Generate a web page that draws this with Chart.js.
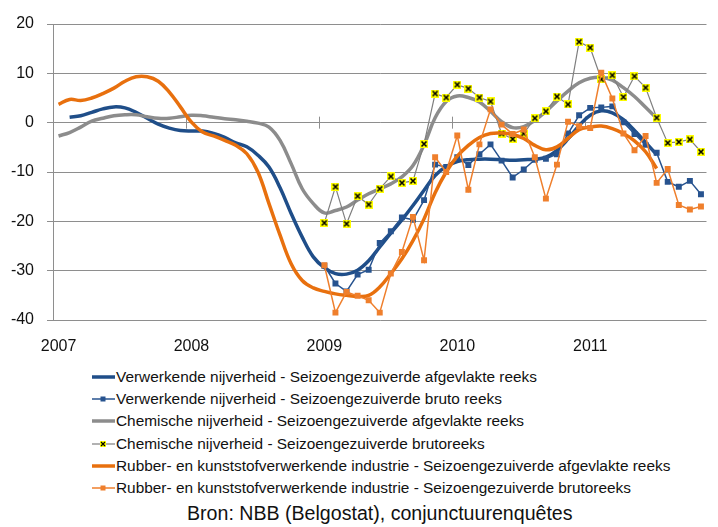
<!DOCTYPE html>
<html>
<head>
<meta charset="utf-8">
<script src="https://cdn.jsdelivr.net/npm/chart.js@4"></script>
<style>
  body { margin: 0; background: #fff; font-family: "Liberation Sans", Arial, sans-serif; }
  #wrap { position: relative; width: 718px; height: 527px; }
  #chart { position: absolute; left: 0; top: 0; }
  .row { position: absolute; left: 92px; height: 22px; line-height: 22px; font-size: 15.4px; color: #111; white-space: nowrap; }
  .row svg { position: absolute; left: 0; top: 6px; }
  .row span { position: absolute; left: 24px; top: 0; }
  #bron { position: absolute; left: 187px; top: 502px; font-size: 19.6px; color: #111; white-space: nowrap; }
</style>
</head>
<body>
<div id="wrap">
  <canvas id="chart" width="718" height="360"></canvas>
  <div id="legend"></div>
  <div id="bron">Bron: NBB (Belgostat), conjunctuurenquêtes</div>
</div>
<script>
const maanden = [
  '2007-01','2007-02','2007-03','2007-04','2007-05','2007-06','2007-07','2007-08','2007-09','2007-10','2007-11','2007-12',
  '2008-01','2008-02','2008-03','2008-04','2008-05','2008-06','2008-07','2008-08','2008-09','2008-10','2008-11','2008-12',
  '2009-01','2009-02','2009-03','2009-04','2009-05','2009-06','2009-07','2009-08','2009-09','2009-10','2009-11','2009-12',
  '2010-01','2010-02','2010-03','2010-04','2010-05','2010-06','2010-07','2010-08','2010-09','2010-10','2010-11','2010-12',
  '2011-01','2011-02','2011-03','2011-04','2011-05','2011-06','2011-07','2011-08','2011-09','2011-10','2011-11'
];
const jaren = ['2007', '2008', '2009', '2010', '2011'];

const verwAfgevlakt = [
  null, 1.1, 1.4, 2.1, 2.8, 3.2, 3.0, 2.1, 0.9, -0.3, -1.1, -1.6,
  -1.7, -1.7, -2.2, -3.0, -4.1, -4.9, -6.6, -9.0, -13.2, -18.4, -23.2, -27.2,
  -29.4, -30.6, -30.7, -29.9, -28.0, -25.2, -22.4, -19.7, -16.8, -13.7, -10.7, -8.9,
  -7.9, -7.5, -7.4, -7.4, -7.5, -7.6, -7.5, -7.4, -7.0, -5.6, -3.3, -0.6,
  1.5, 2.4, 2.0, 0.6, -1.6, -4.0, -6.5, null, null, null, null
];
const verwBruto = [
  null, null, null, null, null, null, null, null, null, null, null, null,
  null, null, null, null, null, null, null, null, null, null, null, null,
  -29.0, -32.6, -34.2, -30.8, -29.8, -24.4, -22.0, -19.2, -19.7, -15.7, -8.5, -9.0,
  -7.0, -8.6, -6.4, -4.4, -7.7, -11.1, -9.5, -7.5, -7.3, -6.4, -2.2, 1.5,
  3.0, 3.1, 3.3, 0.1, -2.3, -4.5, -6.1, -12.0, -13.0, -11.8, -14.5
];
const chemAfgevlakt = [
  -2.7, -2.0, -0.9, 0.3, 0.9, 1.4, 1.6, 1.6, 1.2, 0.9, 0.9, 1.2,
  1.5, 1.4, 1.1, 0.8, 0.6, 0.3, -0.1, -0.9, -3.6, -8.3, -13.4, -16.4,
  -18.3, -17.8, -17.1, -15.7, -14.4, -13.4, -12.4, -11.0, -8.7, -4.5, 1.0, 4.3,
  5.4, 5.1, 4.2, 2.3, 0.2, -1.0, -0.8, 0.5, 2.3, 4.4, 6.4, 8.1,
  9.0, 9.2, 8.6, 7.1, 5.3, 3.1, 0.9, null, null, null, null
];
const chemBruto = [
  null, null, null, null, null, null, null, null, null, null, null, null,
  null, null, null, null, null, null, null, null, null, null, null, null,
  -20.3, -13.0, -20.5, -14.9, -16.6, -13.4, -10.9, -12.2, -11.8, -4.3, 5.9, 5.1,
  7.7, 6.9, 5.1, 4.3, -2.2, -3.3, -2.2, 0.9, 2.3, 5.3, 3.7, 16.4,
  15.2, 8.8, 9.6, 5.2, 9.4, 7.1, 1.0, -4.1, -3.9, -3.4, -5.9
];
const rubberAfgevlakt = [
  3.7, 4.7, 4.5, 5.0, 5.9, 7.0, 8.4, 9.3, 9.3, 8.4, 6.2, 3.2,
  0.1, -1.9, -2.7, -3.6, -4.6, -6.3, -10.0, -16.4, -22.8, -28.6, -32.0, -33.5,
  -34.2, -34.7, -35.0, -35.2, -35.0, -33.3, -30.6, -27.6, -23.9, -19.5, -14.2, -10.0,
  -6.8, -4.6, -3.0, -2.2, -2.1, -2.4, -3.2, -4.6, -5.5, -4.9, -3.2, -1.4,
  -0.9, -0.7, -1.2, -2.2, -3.7, -5.9, -9.3, null, null, null, null
];
const rubberBruto = [
  null, null, null, null, null, null, null, null, null, null, null, null,
  null, null, null, null, null, null, null, null, null, null, null, null,
  -28.9, -38.5, -34.3, -35.1, -36.0, -38.5, -30.6, -26.2, -19.1, -27.9, -7.0, -10.0,
  -2.6, -13.6, -4.4, 2.7, -0.4, -2.3, -1.4, -7.0, -15.4, -8.5, 0.2, -0.7,
  -1.1, 10.1, 4.9, -2.2, -5.6, -2.7, -12.2, -9.4, -16.7, -17.6, -17.0
];

const reeksNamen = [
  'Verwerkende nijverheid - Seizoengezuiverde afgevlakte reeks',
  'Verwerkende nijverheid - Seizoengezuiverde bruto reeks',
  'Chemische nijverheid - Seizoengezuiverde afgevlakte reeks',
  'Chemische nijverheid - Seizoengezuiverde brutoreeks',
  'Rubber- en kunststofverwerkende industrie - Seizoengezuiverde afgevlakte reeks',
  'Rubber- en kunststofverwerkende industrie - Seizoengezuiverde brutoreeks'
];

const blauw = '#1f4e89';
const blauwBruto = '#27538f';
const grijs = '#8c8c8c';
const grijsBruto = '#7f7f7f';
const oranje = '#e8700e';
const oranjeBruto = '#ef7f2c';
const rasterKleur = '#8e8e8e';

// yellow box with black cross, like the Excel marker
const kruisje = document.createElement('canvas');
kruisje.width = 8; kruisje.height = 8;
(function () {
  const c = kruisje.getContext('2d');
  c.fillStyle = '#ffff00';
  c.fillRect(0, 0, 8, 8);
  c.strokeStyle = '#000';
  c.lineWidth = 1.6;
  c.beginPath();
  c.moveTo(1.5, 1.5); c.lineTo(6.5, 6.5);
  c.moveTo(6.5, 1.5); c.lineTo(1.5, 6.5);
  c.stroke();
})();

const jaarStreepjes = {
  id: 'jaarStreepjes',
  beforeDatasetsDraw(chart) {
    const { ctx, scales: { x, y } } = chart;
    const y0 = y.getPixelForValue(0);
    ctx.save();
    ctx.strokeStyle = rasterKleur;
    ctx.lineWidth = 1;
    for (let i = 12; i < maanden.length; i += 12) {
      const px = Math.round((x.getPixelForValue(i - 1) + x.getPixelForValue(i)) / 2) + 0.5;
      ctx.beginPath();
      ctx.moveTo(px, y0 - 6);
      ctx.lineTo(px, y0 + 6);
      ctx.stroke();
    }
    ctx.restore();
  }
};

new Chart(document.getElementById('chart'), {
  type: 'line',
  data: {
    labels: maanden,
    datasets: [
      { label: reeksNamen[0], data: verwAfgevlakt, borderColor: blauw, borderWidth: 3.5, pointRadius: 0, tension: 0.4, order: 6 },
      { label: reeksNamen[1], data: verwBruto, borderColor: blauwBruto, backgroundColor: blauwBruto, borderWidth: 1.5,
        pointStyle: 'rect', pointRadius: 4.2, pointBorderWidth: 0, tension: 0, order: 5 },
      { label: reeksNamen[2], data: chemAfgevlakt, borderColor: grijs, borderWidth: 3.5, pointRadius: 0, tension: 0.4, order: 4 },
      { label: reeksNamen[3], data: chemBruto, borderColor: grijsBruto, borderWidth: 1.2,
        pointStyle: kruisje, pointRadius: 4, tension: 0, order: 3 },
      { label: reeksNamen[4], data: rubberAfgevlakt, borderColor: oranje, borderWidth: 3.5, pointRadius: 0, tension: 0.4, order: 2 },
      { label: reeksNamen[5], data: rubberBruto, borderColor: oranjeBruto, backgroundColor: oranjeBruto, borderWidth: 1.5,
        pointStyle: 'rect', pointRadius: 4.2, pointBorderWidth: 0, tension: 0, order: 1 }
    ]
  },
  options: {
    responsive: false,
    animation: false,
    devicePixelRatio: 1,
    layout: { padding: { top: 24, right: 1, bottom: 0, left: 0 } },
    plugins: { legend: { display: false }, tooltip: { enabled: false } },
    scales: {
      x: {
        type: 'category',
        offset: true,
        grid: { display: false, drawTicks: false },
        border: { display: false },
        afterFit: s => { s.height = 40; },
        ticks: {
          autoSkip: false,
          maxRotation: 0,
          padding: 17,
          color: '#111',
          font: { family: '"Liberation Sans", Arial, sans-serif', size: 16 },
          callback: (v, i) => (i % 12 === 0 ? jaren[i / 12] : '')
        }
      },
      y: {
        min: -40,
        max: 20,
        afterFit: s => { s.width = 53; },
        grid: { color: rasterKleur, lineWidth: 1, tickLength: 6 },
        border: { color: rasterKleur, width: 1 },
        ticks: {
          stepSize: 10,
          padding: 13,
          color: '#111',
          font: { family: '"Liberation Sans", Arial, sans-serif', size: 16 }
        }
      }
    }
  },
  plugins: [jaarStreepjes]
});

// legend below the chart
const legendStijl = [
  { kleur: blauw, dik: 3.5, marker: null },
  { kleur: blauwBruto, dik: 1.5, marker: 'vierkant' },
  { kleur: grijs, dik: 3.5, marker: null },
  { kleur: grijsBruto, dik: 1.2, marker: 'kruis' },
  { kleur: oranje, dik: 3.5, marker: null },
  { kleur: oranjeBruto, dik: 1.5, marker: 'vierkant' }
];
const legend = document.getElementById('legend');
reeksNamen.forEach((naam, k) => {
  const s = legendStijl[k];
  let marker = '';
  if (s.marker === 'vierkant') marker = `<rect x="8.5" y="2.5" width="5" height="5" fill="${s.kleur}"/>`;
  if (s.marker === 'kruis') marker = `<rect x="8" y="2" width="6" height="6" fill="#ffff00"/><path d="M9 3 L13 7 M13 3 L9 7" stroke="#000" stroke-width="1.2"/>`;
  const row = document.createElement('div');
  row.className = 'row';
  row.style.top = (366 + k * 22.2) + 'px';
  row.innerHTML = `<svg width="23" height="10"><line x1="0" y1="5" x2="23" y2="5" stroke="${s.kleur}" stroke-width="${s.dik}"/>${marker}</svg><span>${naam}</span>`;
  legend.appendChild(row);
});
</script>
</body>
</html>
